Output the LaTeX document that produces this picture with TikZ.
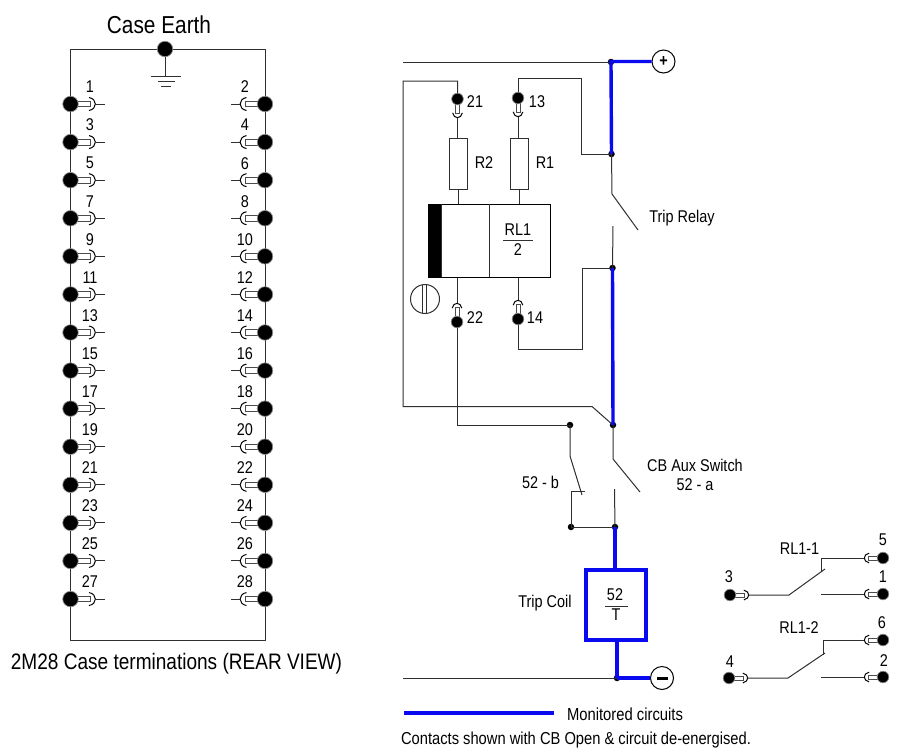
\documentclass[tikz,border=0pt]{standalone}
\usepackage{fontspec}
\setmainfont{Liberation Sans}[FakeStretch=0.85]
\usepackage{xcolor}
\usetikzlibrary{shapes.geometric, arrows, positioning}
\definecolor{MonitorBlue}{HTML}{0A0AF0}
\definecolor{WireGrey}{HTML}{303030}

\begin{document}
\begin{tikzpicture}[x=1pt, y=-1pt, font=\fontsize{17}{19}\selectfont]
    \tikzstyle{wire} = [line width=1pt, draw=WireGrey]
    \tikzstyle{monitored} = [line width=3.4pt, draw=MonitorBlue]
    \tikzstyle{label} = [inner sep=0pt, text=black]
    \tikzstyle{bigdot} = [circle, fill=black, draw=black!45, line width=0.7pt, minimum size=15.5pt, inner sep=0pt]
    \tikzstyle{junc} = [circle, fill=black, minimum size=6.5pt, inner sep=0pt]
    \tikzstyle{resistor} = [rectangle, draw=WireGrey, line width=1pt, fill=white, minimum width=18pt, minimum height=51pt, inner sep=0pt]
    \tikzstyle{supply} = [circle, draw=black, line width=1pt, fill=white, minimum size=23pt, inner sep=0pt]
    \tikzset{
        lug/.pic={
            \draw [fill=white, draw=black!70, line width=0.7pt] (7,-2.8) -- (19.5,-2.8) -- (19.5,2.8) -- (7,2.8) -- cycle;
            \draw [line width=1pt, draw=black] (18.5,-6.5) .. controls (27,-5) and (27,5) .. (18.5,6.5);
            \node (-dot) [bigdot] at (0,0) {};
            \coordinate (-end) at (24.8,0);
            \coordinate (-stub) at (34,0);
        },
        smalllug/.style={scale=0.75, transform shape}
    }
    \useasboundingbox (0,0) rectangle (898,748);

    % case
    \coordinate (caseTL) at (70.5,49);
    \coordinate (caseTR) at (265,49);
    \coordinate (caseBR) at (265,640);
    \coordinate (caseBL) at (70.5,640);
    \draw [wire] (caseTL) -- (caseTR) -- (caseBR) -- (caseBL) -- cycle;
    \node (earthtitle) [label, font=\fontsize{24.5}{26}\selectfont] at (159,24.5) {Case Earth};
    \node (casetitle) [label, font=\fontsize{22.4}{24}\selectfont] at (176.5,664) {2M28 Case terminations (REAR VIEW)};
    \node (earth) [bigdot] at (165,49) {};
    \coordinate (gnd) at (165,76);
    \coordinate (gndA) at (150.5,76);
    \coordinate (gndB) at (181,76);
    \coordinate (gndC) at (158,81);
    \coordinate (gndD) at (175,81);
    \coordinate (gndE) at (161,86);
    \coordinate (gndF) at (171,86);
    \draw [wire] (earth) -- (gnd);
    \draw [wire] (gndA) -- (gndB);
    \draw [wire] (gndC) -- (gndD);
    \draw [wire] (gndE) -- (gndF);

    \foreach \i in {0,...,13} {
        \pgfmathtruncatemacro{\odd}{2*\i+1}
        \pgfmathtruncatemacro{\even}{2*\i+2}
        \pgfmathsetmacro{\py}{104+38.08*\i}
        \pic (c\odd) at (70.5,\py) {lug};
        \pic (c\even) [rotate=180] at (265,\py) {lug};
        \draw [wire] (c\odd-end) -- (c\odd-stub);
        \draw [wire] (c\even-end) -- (c\even-stub);
        \node (tc\odd) [label] at (90,\py-17) {\odd};
        \node (tc\even) [label] at (245,\py-17) {\even};
    }

    % rails and junctions
    \coordinate (railtop) at (403,62);
    \coordinate (railbot) at (403,678);
    \coordinate (loopA) at (403,81);
    \coordinate (loopB) at (403,406.5);
    \coordinate (loopC) at (592,406.5);
    \node (plus) [supply] at (663.5,61.5) {\textbf{+}};
    \node (minus) [supply] at (662,678) {};
    \node (jtop) [junc] at (611,62) {};
    \node (jrelay) [junc] at (611.5,154) {};
    \node (jmid) [junc] at (612.5,268) {};
    \node (jaux) [junc] at (613,425) {};
    \node (jb) [junc] at (570,425) {};
    \node (jbl) [junc] at (571,527) {};
    \node (jcoil) [junc] at (615,527) {};
    \node (jbot) [junc] at (617,678) {};
    \fill (657,676.5) rectangle (668,679.5);

    % relay
    \node (rl) [rectangle, draw=black, line width=1pt, minimum width=122pt, minimum height=73pt, inner sep=0pt] at (489,240.5) {};
    \fill (428,204) rectangle (441,277);
    \draw [wire] (441.5,204) -- (441.5,277);
    \draw [wire] (489,204) -- (489,277);
    \node (rlnum) [label] at (518,230) {RL1};
    \node (rlden) [label] at (518,249.5) {2};
    \draw [wire] (503,240) -- (533,240);
    \node (r2) [resistor] at (458,163.5) {};
    \node (r1) [resistor] at (519.5,163.5) {};
    \node (tr2) [label] at (484,163) {R2};
    \node (tr1) [label] at (545,163) {R1};
    \draw [wire] (425,299) circle [radius=14.5];
    \draw [wire] (422,285) -- (422,313);
    \draw [wire] (426.5,285) -- (426.5,313);

    \pic (p21) [rotate=-90, smalllug] at (457.5,99) {lug};
    \pic (p13) [rotate=-90, smalllug] at (518,98) {lug};
    \pic (p22) [rotate=90, smalllug] at (457,322) {lug};
    \pic (p14) [rotate=90, smalllug] at (518,319) {lug};
    \node (t21) [label] at (475,102) {21};
    \node (t13) [label] at (537,102) {13};
    \node (t22) [label] at (475,318) {22};
    \node (t14) [label] at (535,318) {14};

    \draw [wire] (p21-end) -- (p21-end |- r2.north);
    \draw [wire] (p13-end) -- (p13-end |- r1.north);
    \draw [wire] (r2.south) -- (r2.south |- rl.north);
    \draw [wire] (r1.south) -- (r1.south |- rl.north);
    \draw [wire] (p22-end) -- (p22-end |- rl.south);
    \draw [wire] (p14-end) -- (p14-end |- rl.south);
    \draw [wire] (p13-dot) -- (518,78) -- (581,78) -- (581,154) -- (jrelay.center);
    \draw [wire] (p14-dot) -- (518,349) -- (582,349) -- (582,268) -- (jmid.center);
    \draw [wire] (p21-dot) -- (457.5,81) -- (loopA) -- (loopB) -- (loopC) -- (jaux.center);
    \draw [wire] (p22-dot) -- (457,425) -- (jb.center);

    % trip relay and aux contacts
    \draw [wire] (railtop) -- (jtop.center);
    \draw [wire] (railbot) -- (jbot.center);
    \draw [monitored] (plus) -| (jtop.center) -- (jrelay.center);
    \draw [monitored] (jmid.center) -- (jaux.center);
    \draw [wire] (jrelay.center) -- (612,194) -- (638,230);
    \draw [wire] (jmid.center) -- (613,226);
    \node (trelay) [label] at (682,218) {Trip Relay};
    \draw [wire] (jaux.center) -- (613,459) -- (640,492);
    \draw [wire] (jcoil.center) -- (614.5,489);
    \node (taux) [label, align=center] at (695,474.5) {CB Aux Switch\\52 - a};
    \draw [wire] (jb.center) -- (570,456) -- (582,495);
    \draw [wire] (585,491) -- (571,491) -- (jbl.center) -- (jcoil.center);
    \node (tb) [label] at (540.5,482) {52 - b};

    % trip coil
    \node (coil) [rectangle, draw=MonitorBlue, line width=3.4pt, minimum width=60pt, minimum height=70pt, inner sep=0pt] at (616,605) {};
    \node (coilnum) [label] at (615,595) {52};
    \node (coilden) [label] at (616,614.5) {T};
    \draw [wire] (605,606) -- (628,606);
    \node (tcoil) [label] at (545,603) {Trip Coil};
    \draw [monitored] (jcoil.center) -- (jcoil.center |- coil.north);
    \draw [monitored] (jbot.center |- coil.south) -- (jbot.center);
    \draw [monitored] (jbot.center) -- (minus);

    % output contacts
    \pic (p3) [smalllug] at (730,595) {lug};
    \pic (p4) [smalllug] at (729,678) {lug};
    \pic (p5) [rotate=180, smalllug] at (883,558) {lug};
    \pic (p1) [rotate=180, smalllug] at (883,594) {lug};
    \pic (p6) [rotate=180, smalllug] at (883,640) {lug};
    \pic (p2) [rotate=180, smalllug] at (883,677) {lug};
    \node (t3) [label] at (729,577) {3};
    \node (t4) [label] at (730,662) {4};
    \node (t5) [label] at (883,540) {5};
    \node (t1) [label] at (883,577) {1};
    \node (t6) [label] at (882,623) {6};
    \node (t2) [label] at (884,661) {2};
    \node (trl1) [label] at (799.5,549) {RL1-1};
    \node (trl2) [label] at (799,628) {RL1-2};
    \draw [wire] (p3-end) -- (789,595) -- (825,569);
    \draw [wire] (p5-end) -- (821,558) -- (821,572);
    \draw [wire] (p1-end) -- (821,594);
    \draw [wire] (p4-end) -- (788,678) -- (825,653);
    \draw [wire] (p6-end) -- (823,640) -- (823,655);
    \draw [wire] (p2-end) -- (821,677);

    % key
    \coordinate (keyA) at (404,713);
    \coordinate (keyB) at (554,713);
    \draw [monitored] (keyA) -- (keyB);
    \node (tkey) [label, font=\fontsize{17.4}{19}\selectfont] at (625,714) {Monitored circuits};
    \node (tnote) [label, font=\fontsize{17.3}{19}\selectfont] at (576,740) {Contacts shown with CB Open \& circuit de-energised.};

\end{tikzpicture}
\end{document}
